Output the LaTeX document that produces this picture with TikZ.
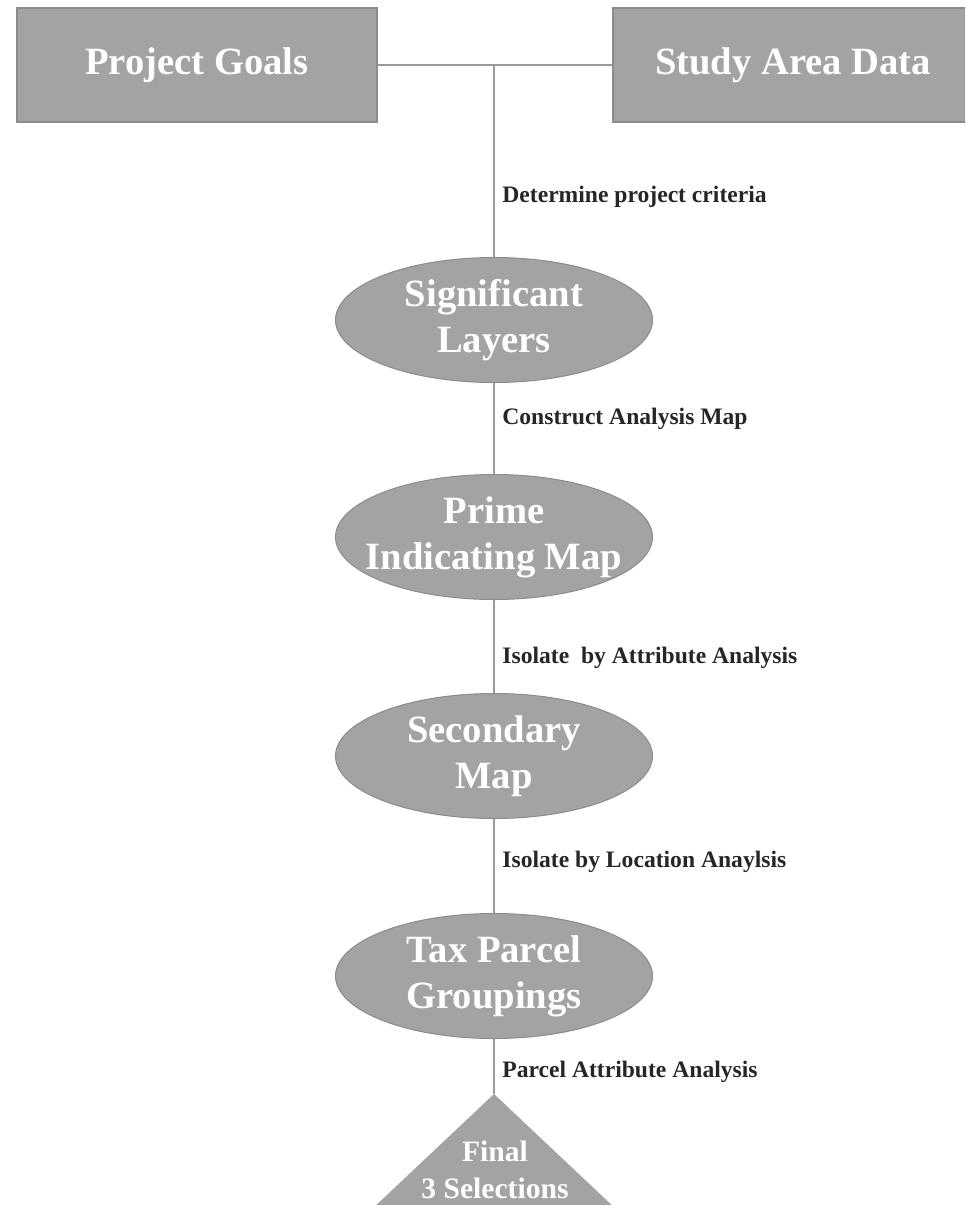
\documentclass[tikz,border=0pt]{standalone}
\usepackage{fontspec}
\setmainfont{Liberation Serif}
\usetikzlibrary{shapes.geometric}
\definecolor{boxgray}{HTML}{A3A3A3}
\definecolor{edgegray}{HTML}{8C8C8C}
\definecolor{linegray}{HTML}{9A9A9A}
\definecolor{labelgray}{HTML}{262626}
\tikzset{
    goalbox/.style={draw=edgegray, fill=boxgray, line width=0.7pt, minimum width=180pt, minimum height=57pt,
        text=white, font=\fontsize{19.3}{23}\selectfont\bfseries},
    stage/.style={ellipse, draw=edgegray, fill=boxgray, line width=0.5pt, minimum width=158.5pt, minimum height=62.5pt,
        inner xsep=-10pt, inner ysep=0pt, text=white, align=center, font=\fontsize{19.3}{23}\selectfont\bfseries},
    steplabel/.style={anchor=west, inner sep=0pt, text=labelgray, font=\fontsize{11.8}{14}\selectfont\bfseries},
    link/.style={draw=linegray, line width=0.75pt},
}
\begin{document}
\begin{tikzpicture}[x=0.5pt, y=-0.5pt]
    \useasboundingbox (0,0) rectangle (965,1205);
    \clip (0,0) rectangle (965,1205);

    \node[goalbox] (goals) at (197,65) {Project Goals};
    \node[goalbox] (study) at (793,65) {Study Area Data};
    \coordinate (join) at (494,65);

    \node[stage] (layers) at (494,320) {Significant\\Layers};
    \node[stage] (prime) at (494,537) {Prime\\Indicating Map};
    \node[stage] (secondary) at (494,756) {Secondary\\Map};
    \node[stage] (parcels) at (494,976) {Tax Parcel\\Groupings};

    \coordinate (apex) at (494,1094);
    \fill[boxgray] (apex) -- (318,1260) -- (670,1260) -- cycle;
    \node[text=white, align=center, font=\fontsize{14.8}{18.5}\selectfont\bfseries] (final) at (495,1170) {Final\\3 Selections};

    \draw[link] (goals.east) -- (study.west);
    \draw[link] (join) -- (layers);
    \foreach \a/\b in {layers/prime, prime/secondary, secondary/parcels} {
        \draw[link] (\a) -- (\b);
    };
    \draw[link] (parcels) -- (apex);

    \node[steplabel] (criteria) at (502,197) {Determine project criteria};
    \node[steplabel] (construct) at (502,419) {Construct Analysis Map};
    \node[steplabel] (attribute) at (502,658) {Isolate\ \ by Attribute Analysis};
    \node[steplabel] (location) at (502,862) {Isolate by Location Anaylsis};
    \node[steplabel] (parcelattr) at (502,1072) {Parcel Attribute Analysis};
\end{tikzpicture}
\end{document}
